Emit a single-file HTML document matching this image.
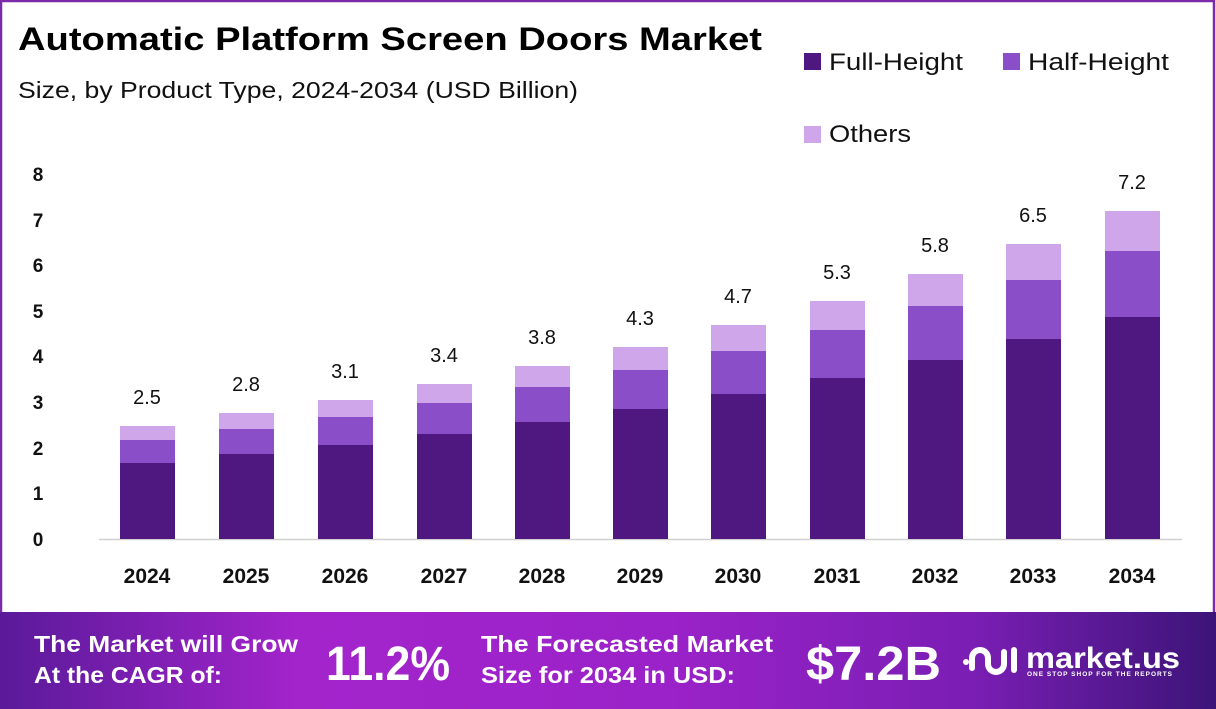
<!DOCTYPE html>
<html><head><meta charset="utf-8"><style>
html,body{margin:0;padding:0;background:#fff}
body{width:1216px;height:709px;overflow:hidden;position:relative;font-family:"Liberation Sans",sans-serif}
</style></head><body>
<svg width="1216" height="709" xmlns="http://www.w3.org/2000/svg" style="position:absolute;left:0;top:0">
<defs>
<linearGradient id="bg" x1="0" x2="1" y1="0" y2="0">
<stop offset="0" stop-color="#5a1a9a"/>
<stop offset="0.25" stop-color="#a424cc"/>
<stop offset="0.55" stop-color="#9a22c8"/>
<stop offset="0.8" stop-color="#7a1eb4"/>
<stop offset="1" stop-color="#3c1478"/>
</linearGradient>
</defs>
<rect x="1" y="1" width="1213" height="640" fill="#fff" stroke="#7b2aa8" stroke-width="2.5"/>
<text x="18" y="50" font-size="32" font-weight="bold" fill="#000" textLength="744" lengthAdjust="spacingAndGlyphs">Automatic Platform Screen Doors Market</text>
<text x="18" y="98" font-size="23" fill="#111" textLength="560" lengthAdjust="spacingAndGlyphs">Size, by Product Type, 2024-2034 (USD Billion)</text>
<rect x="804" y="53" width="17" height="17" fill="#4f1780"/>
<text x="829" y="70" font-size="24" fill="#111" textLength="134" lengthAdjust="spacingAndGlyphs">Full-Height</text>
<rect x="1003" y="53" width="17" height="17" fill="#8a4fc8"/>
<text x="1028" y="70" font-size="24" fill="#111" textLength="141" lengthAdjust="spacingAndGlyphs">Half-Height</text>
<rect x="804" y="126" width="17" height="17" fill="#d0a6ea"/>
<text x="829" y="142" font-size="24" fill="#111" textLength="82" lengthAdjust="spacingAndGlyphs">Others</text>
<g font-size="19" font-weight="bold" fill="#111" text-anchor="middle">
<text x="38" y="181">8</text><text x="38" y="227">7</text><text x="38" y="272">6</text>
<text x="38" y="318">5</text><text x="38" y="363">4</text><text x="38" y="409">3</text>
<text x="38" y="455">2</text><text x="38" y="500">1</text><text x="38" y="546">0</text>
</g>
<line x1="99" y1="539.5" x2="1182" y2="539.5" stroke="#d0d0d0" stroke-width="1.5"/>
<g id="bars"></g>
<rect x="0" y="612" width="1216" height="97" fill="url(#bg)"/>
<g fill="#fff" font-weight="bold">
<text x="34" y="652" font-size="23" textLength="264" lengthAdjust="spacingAndGlyphs">The Market will Grow</text>
<text x="34" y="683" font-size="23" textLength="188" lengthAdjust="spacingAndGlyphs">At the CAGR of:</text>
<text x="326" y="680" font-size="48" textLength="124" lengthAdjust="spacingAndGlyphs">11.2%</text>
<text x="481" y="652" font-size="23" textLength="292" lengthAdjust="spacingAndGlyphs">The Forecasted Market</text>
<text x="481" y="683" font-size="23" textLength="254" lengthAdjust="spacingAndGlyphs">Size for 2034 in USD:</text>
<text x="806" y="680" font-size="48" textLength="135" lengthAdjust="spacingAndGlyphs">$7.2B</text>
<text x="1026" y="668" font-size="30" textLength="154" lengthAdjust="spacingAndGlyphs">market.us</text>
<text x="1027" y="676" font-size="6.5" letter-spacing="1">ONE STOP SHOP FOR THE REPORTS</text>
</g>
<g fill="none" stroke="#fff" stroke-width="6" stroke-linecap="round">
<path d="M972 668 v-10 a8 8 0 0 1 16 0 v6 a8 8 0 0 0 16 0 v-12"/>
<path d="M1014 650 v20"/>
</g>
<circle cx="966" cy="662" r="3" fill="#fff"/>
</svg>
<script>
var d=[[147,426,440,463,"2.5"],[246,413,429,454,"2.8"],[345,400,417,445,"3.1"],[444,384,403,434,"3.4"],[542,366,387,422,"3.8"],[640,347,370,409,"4.3"],[738,325,351,394,"4.7"],[837,301,330,378,"5.3"],[935,274,306,360,"5.8"],[1033,244,280,339,"6.5"],[1132,211,251,317,"7.2"]];
var s="";
d.forEach(function(b,i){var x=b[0]-27;
s+='<rect x="'+x+'" y="'+b[1]+'" width="55" height="'+(b[2]-b[1])+'" fill="#d0a6ea"/>';
s+='<rect x="'+x+'" y="'+b[2]+'" width="55" height="'+(b[3]-b[2])+'" fill="#8a4fc8"/>';
s+='<rect x="'+x+'" y="'+b[3]+'" width="55" height="'+(539-b[3])+'" fill="#4f1780"/>';
s+='<text x="'+b[0]+'" y="'+(b[1]-22)+'" font-size="20" text-anchor="middle" fill="#111">'+b[4]+'</text>';
s+='<text x="'+b[0]+'" y="583" font-size="21" font-weight="bold" text-anchor="middle" fill="#111">'+(2024+i)+'</text>';
});
document.getElementById("bars").innerHTML=s;
</script>
</body></html>
